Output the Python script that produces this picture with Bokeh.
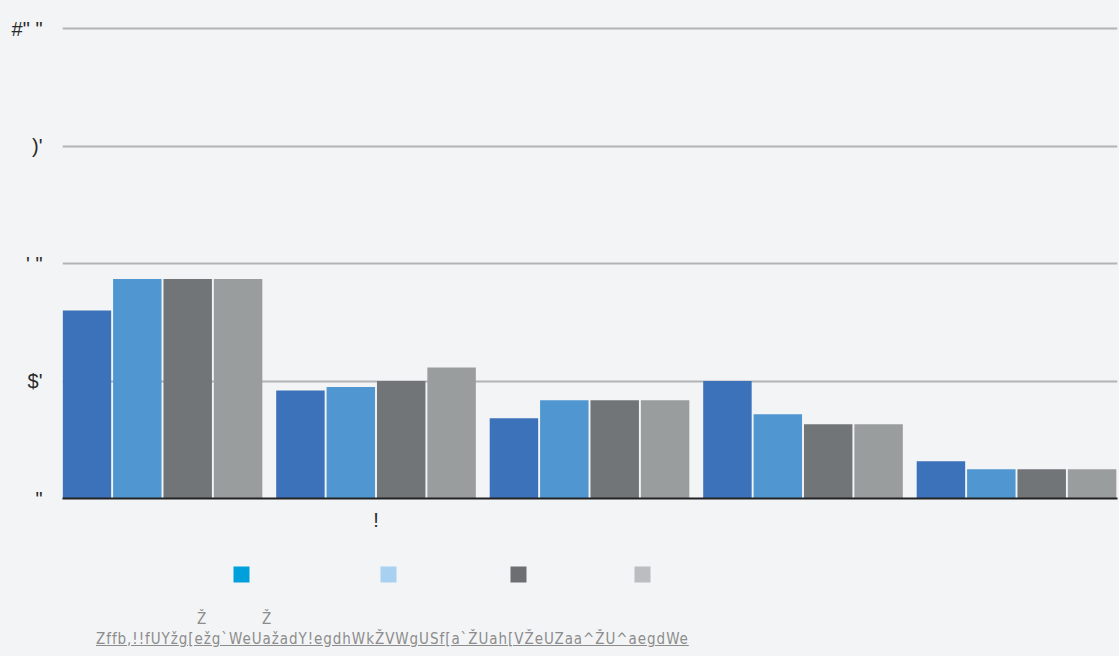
from bokeh.plotting import figure
from bokeh.models import Range1d, FixedTicker, Legend, LegendItem, Div
from bokeh.layouts import column
from bokeh.transform import dodge
from bokeh.embed import file_html
from bokeh.resources import INLINE

# ---------------- data ----------------
groups = [0, 1, 2, 3, 4]
x_tick_positions = [1]
x_tick_labels = ["!"]
series_a = [40.0, 23.0, 17.1, 25.0, 7.9]
series_b = [46.7, 23.7, 20.9, 17.9, 6.2]
series_c = [46.7, 25.0, 20.9, 15.8, 6.2]
series_d = [46.7, 27.9, 20.9, 15.8, 6.2]
y_ticks = [0, 25, 50, 75, 100]
y_tick_labels = ['"', "$'", "' \"", ")'", '#" "']
legend_labels = [" ", " ", " ", " "]
note_marks = ["Ž", "Ž"]
source_url = "Zffb,!!fUYžg[ežg`WeUažadY!egdhWkŽVWgUSf[a`ŽUah[VŽeUZaa^ŽU^aegdWe"

# ---------------- styles ----------------
BG = "#F3F4F6"
bar_colors = ["#3C72BA", "#5097D2", "#717578", "#9A9D9E"]
legend_colors = ["#00A0DC", "#A8D0F0", "#6D6E72", "#BBBDC0"]
offsets = [-0.354, -0.118, 0.118, 0.354]
bar_w = 0.227

# ---------------- main chart ----------------
p = figure(width=1118, height=540,
           x_range=Range1d(-0.4684, 4.473), y_range=Range1d(0, 100.43),
           output_backend="svg", toolbar_location=None,
           min_border_left=62, min_border_right=1,
           min_border_top=26, min_border_bottom=42)
p.background_fill_color = BG
p.border_fill_color = BG
p.outline_line_color = None

data = dict(x=groups, a=series_a, b=series_b, c=series_c, d=series_d)
for key, off, col in zip(["a", "b", "c", "d"], offsets, bar_colors):
    p.vbar(x=dodge("x", off), top=key, width=bar_w, source=data,
           fill_color=col, line_color=None)

p.xgrid.grid_line_color = None
p.ygrid.ticker = FixedTicker(ticks=y_ticks)
p.ygrid.grid_line_color = "#B1B3B5"
p.ygrid.grid_line_width = 2

ya = p.yaxis[0]
ya.ticker = FixedTicker(ticks=y_ticks)
ya.major_label_overrides = dict(zip(y_ticks, y_tick_labels))
ya.axis_line_color = None
ya.major_tick_line_color = None
ya.minor_tick_line_color = None
ya.major_label_standoff = 14
ya.major_label_text_font = "Liberation Sans"
ya.major_label_text_font_size = "20px"
ya.major_label_text_color = "#2A2A2A"

xa = p.xaxis[0]
xa.ticker = FixedTicker(ticks=x_tick_positions)
xa.major_label_overrides = dict(zip(x_tick_positions, x_tick_labels))
xa.axis_line_color = "#222222"
xa.axis_line_width = 2
xa.major_tick_line_color = None
xa.minor_tick_line_color = None
xa.major_tick_out = 0
xa.major_label_standoff = 10
xa.major_label_text_font = "Liberation Sans"
xa.major_label_text_font_size = "20px"
xa.major_label_text_color = "#2A2A2A"

# ---------------- legend strip ----------------
lg_fig = figure(width=1118, height=58, x_axis_type=None, y_axis_type=None,
                x_range=Range1d(-0.4684, 4.473), y_range=Range1d(0, 1),
                output_backend="svg", toolbar_location=None, min_border=0)
lg_fig.background_fill_color = BG
lg_fig.border_fill_color = BG
lg_fig.outline_line_color = None
lg_fig.grid.visible = False

legend_x = [169, 316, 446, 570]
for lab, col, lx in zip(legend_labels, legend_colors, legend_x):
    # proxy renderer: zero-height bars, draws nothing itself
    r = lg_fig.vbar(x=groups, top=0, width=bar_w, fill_color=col, line_color=None)
    lg = Legend(items=[LegendItem(label=lab, renderers=[r])],
                location=(lx, 14), orientation="horizontal",
                glyph_width=20, glyph_height=20, label_height=20,
                label_width=1, label_standoff=0, padding=0, margin=0,
                spacing=0, border_line_color=None,
                background_fill_alpha=0, label_text_font_size="10px")
    lg_fig.add_layout(lg, "center")

# ---------------- source note ----------------
mark_left = [192, 257]
marks_html = "".join(
    f'<span style="position:absolute;left:{x}px;top:6px;">{m}</span>'
    for x, m in zip(mark_left, note_marks))
note_html = (
    '<div style="position:relative;width:1118px;height:56px;'
    "font-family:'Liberation Sans Narrow','DejaVu Sans Condensed',sans-serif;"
    'font-size:15px;color:#8C8C8C;">'
    + marks_html +
    '<span style="position:absolute;left:91px;top:26px;letter-spacing:0.95px;'
    'text-decoration:underline;text-decoration-color:#8C8C8C;white-space:nowrap;">'
    + source_url + '</span></div>'
)
note = Div(text=note_html, width=1118, height=56,
           styles={"background-color": BG})

layout = column(p, lg_fig, note, spacing=0, styles={"background-color": BG})

html = file_html(layout, INLINE)
html = html.replace("<body>", f'<body style="background-color:{BG};">', 1)
open("out.html", "w").write(html)
